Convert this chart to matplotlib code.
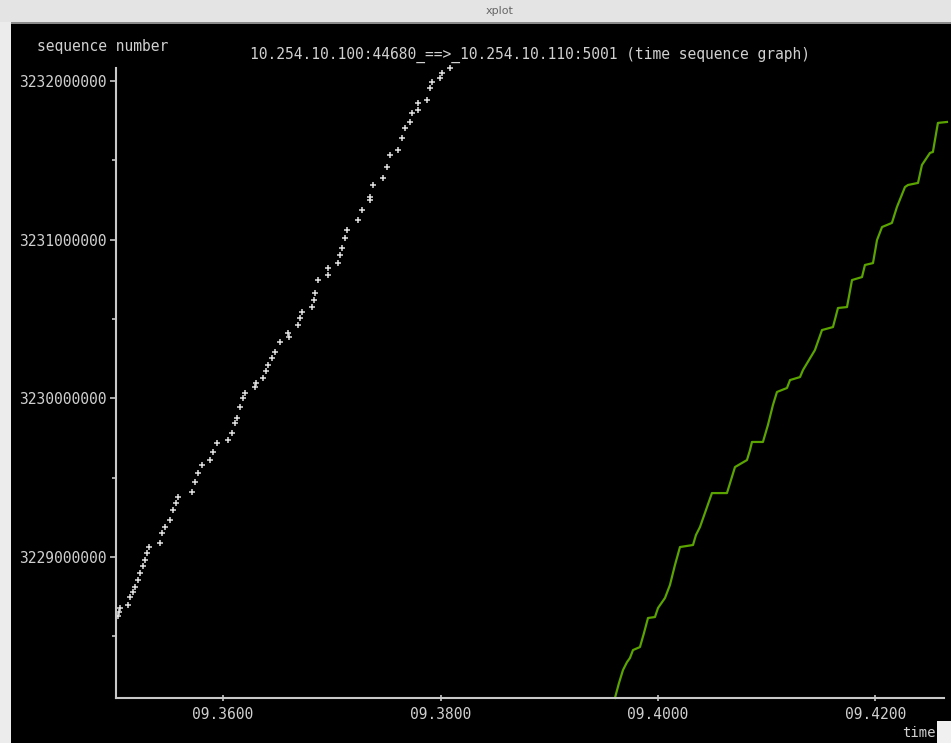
import matplotlib
matplotlib.use("Agg")
import matplotlib.pyplot as plt
from matplotlib.patches import Rectangle
from matplotlib.ticker import FixedLocator, FuncFormatter

# ---- data ----
seg_time = [9.35035, 9.35044, 9.35053, 9.35126, 9.35145, 9.35172, 9.35191, 9.35218,
            9.35237, 9.35264, 9.35283, 9.35301, 9.35320, 9.35421, 9.35439, 9.35467,
            9.35513, 9.35540, 9.35568, 9.35586, 9.35715, 9.35743, 9.35770, 9.35807,
            9.35880, 9.35908, 9.35945, 9.36046, 9.36083, 9.36110, 9.36129, 9.36156,
            9.36184, 9.36202, 9.36294, 9.36303, 9.36368, 9.36395, 9.36414, 9.36451,
            9.36478, 9.36524, 9.36598, 9.36607, 9.36690, 9.36708, 9.36726, 9.36818,
            9.36837, 9.36846, 9.36874, 9.36965, 9.36965, 9.37057, 9.37076, 9.37094,
            9.37122, 9.37140, 9.37241, 9.37278, 9.37352, 9.37352, 9.37379, 9.37471,
            9.37508, 9.37536, 9.37609, 9.37646, 9.37674, 9.37720, 9.37738, 9.37793,
            9.37793, 9.37876, 9.37903, 9.37922, 9.37995, 9.38014, 9.38087]
seg_seq = [3228628000, 3228653000, 3228679000, 3228698000, 3228748000, 3228779000,
           3228811000, 3228855000, 3228899000, 3228943000, 3228981000, 3229025000,
           3229063000, 3229088000, 3229151000, 3229189000, 3229233000, 3229296000,
           3229340000, 3229378000, 3229410000, 3229473000, 3229529000, 3229580000,
           3229611000, 3229662000, 3229718000, 3229737000, 3229781000, 3229844000,
           3229876000, 3229945000, 3230002000, 3230033000, 3230071000, 3230096000,
           3230128000, 3230172000, 3230210000, 3230254000, 3230292000, 3230355000,
           3230411000, 3230386000, 3230462000, 3230506000, 3230544000, 3230575000,
           3230619000, 3230663000, 3230745000, 3230777000, 3230821000, 3230852000,
           3230903000, 3230947000, 3231010000, 3231060000, 3231123000, 3231186000,
           3231249000, 3231268000, 3231344000, 3231388000, 3231457000, 3231533000,
           3231565000, 3231640000, 3231703000, 3231741000, 3231798000, 3231817000,
           3231861000, 3231880000, 3231955000, 3231993000, 3232018000, 3232050000,
           3232081000]

ack_time = [9.39604, 9.39641, 9.39678, 9.39715, 9.39742, 9.39770, 9.39834, 9.39871,
            9.39908, 9.39972, 9.40000, 9.40064, 9.40110, 9.40156, 9.40202, 9.40322,
            9.40349, 9.40386, 9.40441, 9.40496, 9.40634, 9.40671, 9.40708, 9.40818,
            9.40846, 9.40864, 9.40965, 9.41011, 9.41057, 9.41094, 9.41186, 9.41214,
            9.41306, 9.41333, 9.41388, 9.41443, 9.41508, 9.41609, 9.41655, 9.41738,
            9.41784, 9.41876, 9.41903, 9.41977, 9.42014, 9.42060, 9.42151, 9.42197,
            9.42271, 9.42299, 9.42391, 9.42427, 9.42501, 9.42528, 9.42547, 9.42574,
            9.42657]
ack_seq = [3228112000, 3228206000, 3228288000, 3228338000, 3228364000, 3228414000,
           3228433000, 3228521000, 3228616000, 3228622000, 3228679000, 3228742000,
           3228824000, 3228950000, 3229063000, 3229076000, 3229139000, 3229189000,
           3229296000, 3229403000, 3229403000, 3229485000, 3229567000, 3229611000,
           3229674000, 3229725000, 3229725000, 3229832000, 3229958000, 3230040000,
           3230065000, 3230115000, 3230134000, 3230178000, 3230241000, 3230304000,
           3230430000, 3230449000, 3230569000, 3230575000, 3230745000, 3230764000,
           3230840000, 3230852000, 3230997000, 3231079000, 3231105000, 3231205000,
           3231331000, 3231344000, 3231357000, 3231470000, 3231546000, 3231552000,
           3231628000, 3231735000, 3231741000]

x_ticks = [9.36, 9.38, 9.40, 9.42]
y_ticks = [3229000000, 3230000000, 3231000000, 3232000000]
y_minor = [3228500000, 3229500000, 3230500000, 3231500000]

title_text = "10.254.10.100:44680_==>_10.254.10.110:5001 (time sequence graph)"
ylabel_text = "sequence number"
xlabel_text = "time"
window_title = "xplot"

# ---- figure ----
W, H = 951, 743
fig = plt.figure(figsize=(W / 100, H / 100), dpi=100)
fig.patch.set_facecolor("black")

mono = "DejaVu Sans Mono"
txt_col = "#d0d0d0"
axis_col = "#c8c8c8"

# window chrome
fig.patches.append(Rectangle((0, 1 - 22 / H), 1, 22 / H, transform=fig.transFigure,
                             facecolor="#e4e4e4", edgecolor="none", zorder=0))
fig.patches.append(Rectangle((0, 1 - 24 / H), 1, 2 / H, transform=fig.transFigure,
                             facecolor="#8a8a8a", edgecolor="none", zorder=0))
fig.patches.append(Rectangle((0, 0), 11 / W, 1 - 22 / H, transform=fig.transFigure,
                             facecolor="#ececec", edgecolor="none", zorder=0))
fig.patches.append(Rectangle((937 / W, 0), 14 / W, 22 / H, transform=fig.transFigure,
                             facecolor="#f0f0f0", edgecolor="none", zorder=0))
fig.text(500 / W, 1 - 11 / H, window_title, ha="center", va="center",
         fontsize=8, color="#666666", family="DejaVu Sans")

ax = fig.add_axes([116 / W, 1 - 698 / H, (944 - 116) / W, (698 - 68) / H])
ax.set_facecolor("black")
ax.patch.set_alpha(0)

ax.plot(seg_time, seg_seq, linestyle="none", marker="+", markersize=5,
        markeredgewidth=1.1, color="#e0e0e0", clip_on=False)
ax.plot(ack_time, ack_seq, color="#5aa300", linewidth=1.6, clip_on=False)

ax.set_xlim(9.35016, 9.42630)
ax.set_ylim(3228112000, 3232081000)

for s in ["top", "right"]:
    ax.spines[s].set_visible(False)
for s in ["left", "bottom"]:
    ax.spines[s].set_color(axis_col)
    ax.spines[s].set_linewidth(1.5)

ax.xaxis.set_major_locator(FixedLocator(x_ticks))
ax.yaxis.set_major_locator(FixedLocator(y_ticks))
ax.yaxis.set_minor_locator(FixedLocator(y_minor))
ax.xaxis.set_major_formatter(FuncFormatter(lambda v, p: f"{v:07.4f}"))
ax.yaxis.set_major_formatter(FuncFormatter(lambda v, p: f"{int(round(v))}"))

ax.tick_params(axis="x", which="major", direction="inout", length=5, width=1.2,
               color=axis_col, labelcolor=txt_col, labelsize=10.5, pad=4)
ax.tick_params(axis="y", which="major", direction="out", length=4, width=1.2,
               color=axis_col, labelcolor=txt_col, labelsize=10.5, pad=3)
ax.tick_params(axis="y", which="minor", direction="out", length=3, width=1.2,
               color=axis_col)
for lbl in ax.get_xticklabels() + ax.get_yticklabels():
    lbl.set_family(mono)

fig.text(530 / W, 1 - 55 / H, title_text, ha="center", va="center",
         fontsize=10.5, color=txt_col, family=mono)
fig.text(37 / W, 1 - 47 / H, ylabel_text, ha="left", va="center",
         fontsize=10.5, color=txt_col, family=mono)
fig.text(936 / W, 1 - 733 / H, xlabel_text, ha="right", va="center",
         fontsize=10, color=txt_col, family=mono)

fig.savefig("out.png", dpi=100, facecolor=fig.get_facecolor())
